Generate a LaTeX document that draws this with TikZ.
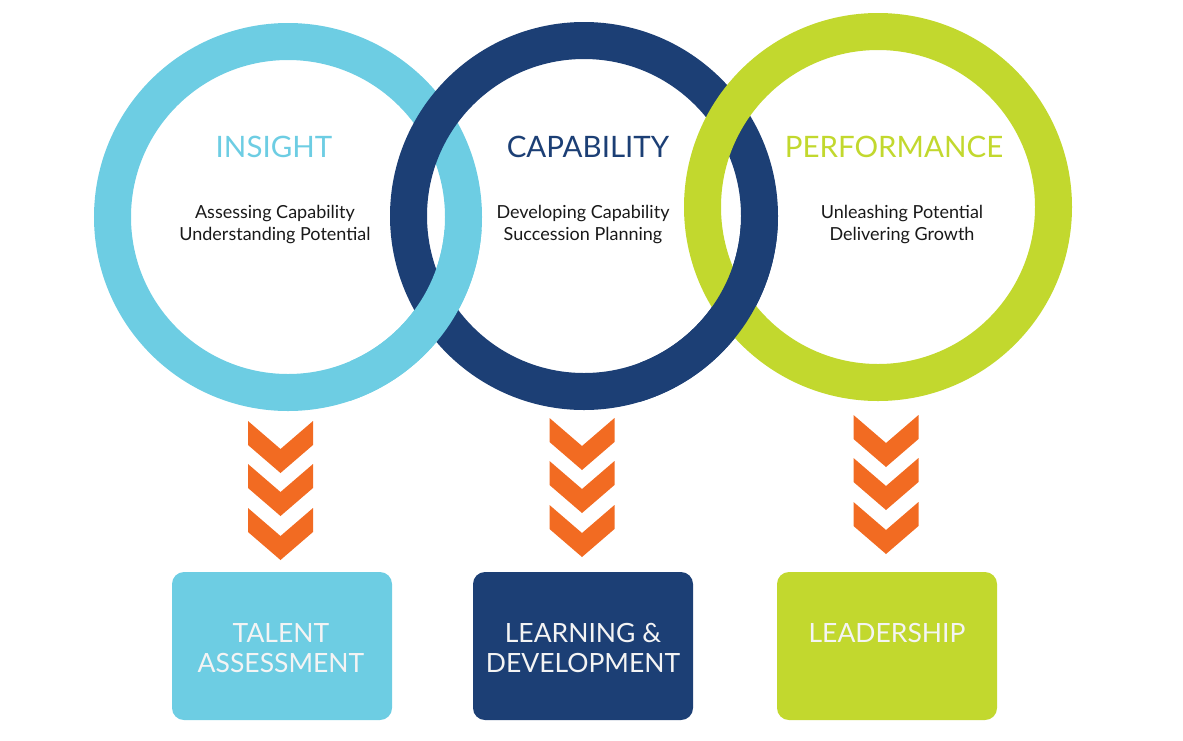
\documentclass[tikz,border=0pt]{standalone}
\usepackage{fontspec}
\setmainfont{Lato}
\definecolor{lblue}{HTML}{6DCDE3}
\definecolor{dblue}{HTML}{1C3F75}
\definecolor{lgreen}{HTML}{C2D82E}
\definecolor{orng}{HTML}{F26B22}
\definecolor{boxtext}{HTML}{F4F4F4}
\begin{document}
\begin{tikzpicture}[x=1pt,y=-1pt,
  ring/.style={line width=37pt},
  heading/.style={font=\fontsize{29.5}{32}\selectfont, inner sep=0pt},
  subtext/.style={font=\fontsize{18}{22}\selectfont, align=center, inner sep=0pt, text=black!90},
  boxlabel/.style={font=\fontsize{26.5}{30}\selectfont, align=center, inner sep=0pt, text=boxtext},
  tile/.style={rounded corners=12pt, minimum width=220pt, minimum height=148pt, inner sep=0pt},
  chev/.style={fill=orng, draw=none}]
\useasboundingbox (0,0) rectangle (1183,740);
% rings
\coordinate (c1) at (288,217);
\coordinate (c2) at (584,216);
\coordinate (c3) at (878,207);
\draw[ring, lblue] (c1) circle (175.5);
\draw[ring, dblue] (c2) circle (175.5);
\draw[ring, lgreen] (c3) circle (175.5);
% interlock: light blue over dark blue at bottom crossing
\begin{scope}
  \clip (350,230) rectangle (520,430);
  \draw[ring, lblue] (c1) circle (175.5);
\end{scope}
% dark blue over green at bottom crossing
\begin{scope}
  \clip (640,225) rectangle (820,430);
  \draw[ring, dblue] (c2) circle (175.5);
\end{scope}
% headings
\node[heading, text=lblue] (h1) at (274,147) {INSIGHT};
\node[heading, text=dblue] (h2) at (588,147) {CAPABILITY};
\node[heading, text=lgreen] (h3) at (894,147) {PERFORMANCE};
\node[subtext] (s1) at (275,225) {Assessing Capability\\Understanding Potential};
\node[subtext] (s2) at (583,225) {Developing Capability\\Succession Planning};
\node[subtext] (s3) at (902,225) {Unleashing Potential\\Delivering Growth};
% chevrons
\foreach \cx/\cy in {280.5/421, 582/418, 886/415}{
  \foreach \dy in {0,43,87}{
    \fill[chev] (\cx-32.5,\cy+\dy) -- (\cx,\cy+\dy+28) -- (\cx+32.5,\cy+\dy)
      -- (\cx+32.5,\cy+\dy+24) -- (\cx,\cy+\dy+52) -- (\cx-32.5,\cy+\dy+24) -- cycle;
  }
}
% boxes
\node[tile, fill=lblue] (b1) at (282,646) {};
\node[tile, fill=dblue] (b2) at (583,646) {};
\node[tile, fill=lgreen] (b3) at (887,646) {};
\node[boxlabel] (t1) at (281,648) {TALENT\\ASSESSMENT};
\node[boxlabel] (t2) at (583,648) {LEARNING \&\\DEVELOPMENT};
\node[boxlabel] (t3) at (887,633) {LEADERSHIP};
\end{tikzpicture}
\end{document}
